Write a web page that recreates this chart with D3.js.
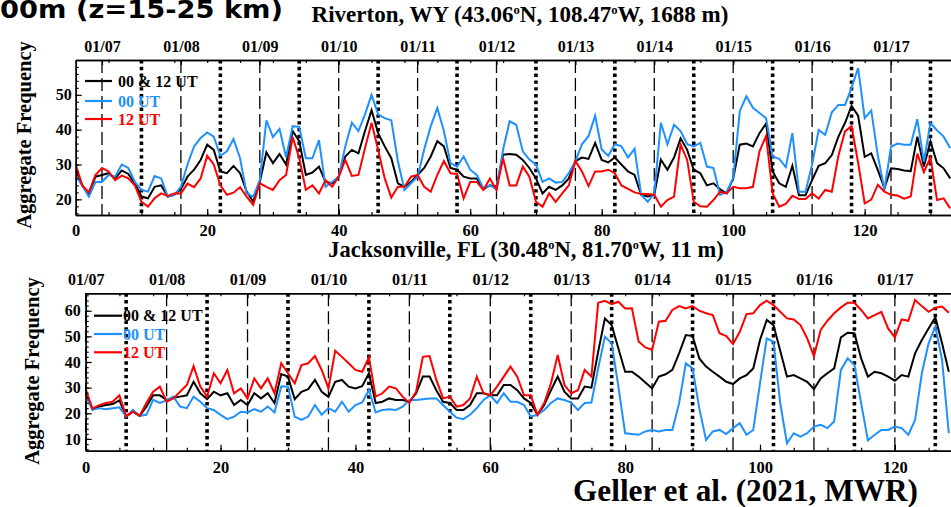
<!DOCTYPE html>
<html><head><meta charset="utf-8">
<script src="https://cdn.jsdelivr.net/npm/d3@7"></script>
<style>html,body{margin:0;padding:0;background:#fff;overflow:hidden}</style>
</head><body><svg id="c" width="951" height="507"></svg>
<script>
// ---------- data ----------
const dateLabels = ["01/07","01/08","01/09","01/10","01/11","01/12","01/13","01/14","01/15","01/16","01/17"];
const rivDatePos = [4,16,28,40,52,64,76,88,100,112,124];
const rivDashed  = [4,16,28,40,52,64,76,88,100,112,124];
const rivDotted  = [10,22,34,46,58,70,82,94,106,118,130];
const jaxDatePos = [0,12,24,36,48,60,72,84,96,108,120];
const jaxDashed  = [0,12,24,36,48,60,72,84,96,108,120];
const jaxDotted  = [6,18,30,42,54,66,78,90,102,114,126];
const xTickValues = [0,20,40,60,80,100,120];
const rivYTicks = [20,30,40,50];
const jaxYTicks = [10,20,30,40,50,60];
const legendLabels = ["00 & 12 UT","00 UT","12 UT"];
const seriesColors = ["#000000","#1E90FF","#FF0000"];

// Riverton, WY
const rivAll = [28.5,24,21.3,26.5,27,27.5,26,28.3,27.3,24.6,
20.8,20.3,23.6,24,20.8,21.3,22.9,26.5,28.5,31.3,
35.7,34.2,28,27.5,29.6,27.5,22.2,19.3,25,33.5,
30.4,33,30,39.6,36.7,27,27.7,29.4,25,24.6,
26.5,32.3,34.2,33.2,39.6,45.6,39,35.2,31.8,24.6,
23.6,25,27,29,32.3,36.7,35.2,29,28.5,26.5,
26,26,22.9,24,23.6,32.8,33,32.8,31.3,29,
26,21.7,23.6,22.7,24,26,31,32,31.6,36.2,
31.3,30.6,32,30,28,27,21.3,20.8,21.3,31.4,
28.5,32,37.5,34.2,28.5,27.5,24,24.6,22.9,21.7,
26,35.7,36,35.2,39,41.8,28,24.6,23.6,29.6,
21.2,21.2,25.5,29.6,30.4,32.7,38,41.9,46.8,44,
32.2,33.2,28.4,23.2,28.9,28.7,28.3,28.1,38,29.4,
36.6,30.4,28.9,26];
const riv00 = [26.7,24,20.8,25,25,27,26.5,30,29,25,
22.7,22.2,26.7,26,20.8,21.3,23.6,30,35.2,37.6,
39.2,38,32.5,33.8,37.3,31.8,21.7,20.8,25.5,42.7,
37.9,40.2,32.1,41,40.8,31.8,31.8,37,23.6,25,
26.5,35.2,42,39.6,44.4,50,44.4,43.3,42.7,31,
22.7,24.6,26.5,34.3,41,46.2,39.6,30.4,29.4,32.3,
28.5,27,23.2,24,23,34.3,42.4,41.4,33.8,31.4,
30,25,26,24.8,25,27.5,31,35.8,38.2,44,
34.3,32.5,35.8,35.2,32,34.5,21.3,19.3,21.7,42,
35.8,41.4,39.6,35.8,35.2,36.2,29.4,29,21.3,22.2,
26,45.3,49.6,46.3,44.8,43.3,32.3,31.6,29.2,39,
22.2,22.2,30,39.9,38.5,45,47.1,47.1,52,57.7,
43.3,45.5,32.5,22.8,35.1,36,35.7,35.7,43,30.8,
41.9,39.8,38,34.7];
const riv12 = [30,24,22,27,29,28,25.5,26.8,26,24,
19.3,17.9,20.3,21.7,21,21.7,21.7,24.5,23.5,26,
32.5,30,24,21.3,21.9,23.5,20.8,18.4,24.6,23.6,
22.7,25.5,27,37.9,31.8,22.7,24,21.7,25.5,23.6,
26.5,31.3,26.7,27,34.7,42,34.2,26,20.5,23.6,
23.6,26.5,27,23.6,22.2,27,31,27.5,27.3,20.3,
25,25,22.7,26,22.7,31.8,24,24,29.4,26.5,
19.3,17.9,21.7,19.3,21.7,24,31,28,23.8,28,
28,28.5,27.5,24,23,22,21.5,21.5,21.3,17.9,
19.8,20.8,35.7,31.3,19.3,18,17.9,19.8,22.2,21.7,
23.6,23.2,23.2,23.6,33.8,38.2,21.7,17.9,18.7,21,
20.1,20.1,21.7,20.2,22.7,22.2,32.5,39.5,41,30.5,
18.8,19.9,24.2,22.2,21.3,21.1,20.2,20.8,33.1,27.8,
32,19.8,20.3,17.4];

// Jacksonville, FL
const jaxAll = [27.8,21.5,22.6,23.2,23.6,25,18.7,20.6,19,22.6,
27,27,25.2,26,26.5,27,32.3,27.8,25.5,28.4,
27,27.8,23.2,25.2,23.2,27.8,25.8,27.8,24,35.3,
34.3,25.5,28.4,29.4,33,28.4,26.4,32.3,33,30.4,
29.7,30.6,35.6,24,24.5,25.8,25.2,25.2,24.5,27.8,
34.3,34.3,29,24.5,24,21.3,21.3,23.2,27.8,27.8,
27,27,31,31,29,25.8,24,19.4,23.2,29,
34.3,28.4,25.8,25.8,30.4,30,44,57,54.4,45.3,
36.2,36.2,34.3,32,29.7,34.3,35.2,36.9,43.4,50.5,
50.1,41.4,38.2,36.2,34.3,32.3,31.4,33.6,34.9,37.5,
48.6,56.4,54.4,44.4,34.3,34.9,33.6,32.3,29.4,33.6,
35.6,37.5,49.6,51.4,51.2,41.4,34.3,36.2,35.6,34.3,
32.7,34.9,34.3,43.4,48.6,53.1,57.4,47.3,36.2];
const jax00 = [26.5,21.3,22,21.6,22,22.3,18.7,21.3,19,19.4,
25.2,24,25,26.5,22.6,22,26.5,24.5,22,21.3,
19.4,17.7,18.7,20.6,20.3,21.6,20.6,22.6,20.3,30.4,
30.4,18.7,17.4,18.7,23.2,19.4,22,20.6,24.5,20.6,
23.2,24.2,29.1,20.3,21.3,21.6,21.3,22.6,25.2,25.2,
25.5,25.8,25.8,23.2,20.6,18.3,17.7,19.4,22,25.2,
27,24,27.8,24.5,24.5,23.2,18.7,19.4,21.3,24,
25.8,25.2,24.2,21.3,24,24.2,37.5,49.9,47.3,30.4,
12.2,11.9,11.6,12.9,13.5,12.9,13.5,13.5,23.9,39.5,
37.5,21.9,9.6,12.9,13.5,11.9,14.2,16.1,11.6,13.5,
31.7,49.2,47.9,23.9,8.3,12.2,10.9,12.2,14.8,15.5,
14.2,16.8,36.9,41.4,38.8,23.9,9.4,11.6,13.5,13.5,
14.8,14.2,11.6,17.4,35.6,47.3,53.8,40.8,12.2];
const jax12 = [29.4,21.8,23.2,24,24.5,27,18.9,20.6,19,24,
28.4,30.4,24.5,25.8,28.4,31,38.4,30.4,26.5,35.6,
31.7,36.9,27.8,29.7,25.8,33.6,29.7,33.6,27.8,39.5,
35.6,31.7,38.8,39.5,42.3,36.9,29.7,44.4,42,39.5,
36.9,36.2,41.8,26.5,27.8,30.4,29.7,26.5,24,28.4,
42,42.3,33,25.8,26.5,22.6,23.2,25.8,34.3,27.8,
27,30.4,34.3,38.2,34.3,27,27,19.4,24,31.7,
42.7,31,27.8,29,36.9,34.3,63.1,63.9,62.6,63.5,
60.9,61,48,45.7,44.7,55.7,56.1,60.3,61.8,60.9,
61.8,60,59,58.3,51.2,50.1,47,51.8,58.7,59,
62.2,63.9,62.2,59.6,57,56.6,54.4,49.2,42.3,52.5,
56.1,59,61.3,63.1,63.1,60.3,57,58.3,59.6,53.1,
49.6,56.6,56.1,64.2,61.8,59.6,61.2,61.6,59.2];

// ---------- drawing ----------
const svg = d3.select("#c");
const SERIF = "'Liberation Serif','Times New Roman',serif";
svg.append("rect").attr("width",951).attr("height",507).attr("fill","#fff");

function titleText(g, x, y, parts, size) {
  const t = g.append("text").attr("x", x).attr("y", y)
    .attr("text-anchor","middle").attr("font-family", SERIF)
    .attr("font-weight","bold").attr("font-size", size).attr("fill","#000");
  let shift = 0;
  parts.forEach(p => {
    const ts = t.append("tspan").text(p.text);
    if (p.sup) {
      ts.attr("dy", -size*0.36).attr("font-size", size*0.55);
      shift = size*0.36;
    } else if (shift) {
      ts.attr("dy", shift);
      shift = 0;
    }
  });
  return t;
}

function drawPanel(cfg) {
  const g = svg.append("g");
  const x = d3.scaleLinear().domain([0, cfg.xMax]).range([cfg.left, cfg.left + cfg.xMax*cfg.ppu]);
  const y = d3.scaleLinear().domain(cfg.yDomain).range([cfg.bottom, cfg.top]);
  const clipId = "clip" + cfg.id;
  svg.append("clipPath").attr("id", clipId).append("rect")
    .attr("x", cfg.left).attr("y", cfg.top).attr("width", 951 - cfg.left).attr("height", cfg.bottom - cfg.top);

  // reference lines
  const ref = g.append("g");
  ref.selectAll("line.dash").data(cfg.dashed).join("line")
    .attr("x1", d => x(d)).attr("x2", d => x(d)).attr("y1", cfg.top).attr("y2", cfg.bottom)
    .attr("stroke","#000").attr("stroke-width",1.3).attr("stroke-dasharray","13,5");
  ref.selectAll("line.dot").data(cfg.dotted).join("line")
    .attr("x1", d => x(d)).attr("x2", d => x(d)).attr("y1", cfg.top).attr("y2", cfg.bottom)
    .attr("stroke","#000").attr("stroke-width",3.6).attr("stroke-dasharray","3.4,3.4");

  // series
  const line = d3.line().x((d,i) => x(i)).y(d => y(d));
  const lg = g.append("g").attr("clip-path", `url(#${clipId})`);
  cfg.series.forEach((s, k) => {
    lg.append("path").datum(s).attr("d", line).attr("fill","none")
      .attr("stroke", seriesColors[k]).attr("stroke-width", 2).attr("stroke-linejoin","miter");
  });

  // axes
  const axStyle = (sel, fs) => sel.attr("font-family", SERIF).attr("font-weight","bold").attr("font-size", fs)
    .call(s => s.selectAll(".domain").attr("stroke","#000").attr("stroke-width",1.4))
    .call(s => s.selectAll(".tick line").attr("stroke","#000").attr("stroke-width",1.2))
    .call(s => s.selectAll(".tick text").attr("fill","#000"));

  // bottom
  g.append("g").attr("transform", `translate(0,${cfg.bottom})`)
    .call(d3.axisBottom(x).tickValues(d3.range(0, cfg.xMax, 5)).tickSize(-3).tickSizeOuter(0).tickFormat(""))
    .call(axStyle, 17);
  g.append("g").attr("transform", `translate(0,${cfg.bottom})`)
    .call(d3.axisBottom(x).tickValues(xTickValues).tickSize(-6).tickSizeOuter(0).tickPadding(cfg.xPad).tickFormat(d3.format("d")))
    .call(axStyle, 16.5);
  // top
  g.append("g").attr("transform", `translate(0,${cfg.top})`)
    .call(d3.axisTop(x).tickValues(d3.range(0, cfg.xMax, 5)).tickSize(-3).tickSizeOuter(0).tickFormat(""))
    .call(axStyle, 16);
  g.append("g").attr("transform", `translate(0,${cfg.top})`)
    .call(d3.axisTop(x).tickValues(cfg.datePos).tickSize(-5).tickSizeOuter(0).tickPadding(8)
      .tickFormat((d,i) => dateLabels[i]))
    .call(axStyle, 16);
  // left
  g.append("g").attr("transform", `translate(${cfg.left},0)`)
    .call(d3.axisLeft(y).tickValues(d3.range(Math.ceil(cfg.yDomain[0]/2)*2, cfg.yDomain[1], 2)).tickSize(-3).tickSizeOuter(0).tickFormat(""))
    .call(axStyle, 16);
  g.append("g").attr("transform", `translate(${cfg.left},0)`)
    .call(d3.axisLeft(y).tickValues(cfg.yTicks).tickSize(-6).tickSizeOuter(0).tickPadding(cfg.yPad).tickFormat(d3.format("d")))
    .call(axStyle, 16);

  // y title
  g.append("text").attr("transform", `translate(${cfg.yTitleX},${cfg.yTitleY}) rotate(-90)`)
    .attr("text-anchor","middle").attr("font-family", SERIF).attr("font-weight","bold")
    .attr("font-size", 20.5).text("Aggregate Frequency");

  // legend
  const leg = g.append("g");
  legendLabels.forEach((lab, k) => {
    const ly = cfg.legY[k];
    leg.append("line").attr("x1", cfg.legX1).attr("x2", cfg.legX2).attr("y1", ly).attr("y2", ly)
      .attr("stroke", seriesColors[k]).attr("stroke-width", 2.2);
    leg.append("text").attr("x", cfg.legTX).attr("y", ly + 5.5).attr("font-family", SERIF)
      .attr("font-weight","bold").attr("font-size", 16).attr("fill", seriesColors[k]).text(lab);
  });
}

drawPanel({id:"riv", left:75.7, ppu:6.575, xMax:136, top:60, bottom:215, yDomain:[15.5,60],
  yTicks: rivYTicks, yPad:4, xPad:9.5, dashed: rivDashed, dotted: rivDotted, datePos: rivDatePos,
  series:[rivAll, riv00, riv12], yTitleX:31, yTitleY:135,
  legX1:85, legX2:112, legTX:118, legY:[81,101,119]});

drawPanel({id:"jax", left:85.7, ppu:6.743, xMax:130, top:293.3, bottom:450.7, yDomain:[5.4,66.8],
  yTicks: jaxYTicks, yPad:5, xPad:10.5, dashed: jaxDashed, dotted: jaxDotted, datePos: jaxDatePos,
  series:[jaxAll, jax00, jax12], yTitleX:39, yTitleY:371,
  legX1:94, legX2:122, legTX:123, legY:[315.7,334,352.3]});

// titles
svg.append("text").attr("x", 0).attr("y", 18).attr("font-family","'DejaVu Sans',sans-serif")
  .attr("font-weight","bold").attr("font-size", 24).attr("textLength", 283).attr("lengthAdjust","spacingAndGlyphs")
  .text("00m (z=15-25 km)");
titleText(svg, 520, 22, [{text:"Riverton, WY (43.06"},{text:"o",sup:true},{text:"N, 108.47"},{text:"o",sup:true},{text:"W, 1688 m)"}], 23);
titleText(svg, 526, 257, [{text:"Jacksonville, FL (30.48"},{text:"o",sup:true},{text:"N, 81.70"},{text:"o",sup:true},{text:"W, 11 m)"}], 22.5);
svg.append("text").attr("x", 573).attr("y", 501).attr("font-family", SERIF).attr("font-weight","bold")
  .attr("font-size", 30.5).attr("textLength", 345).attr("lengthAdjust","spacingAndGlyphs")
  .text("Geller et al. (2021, MWR)");
</script></body></html>
